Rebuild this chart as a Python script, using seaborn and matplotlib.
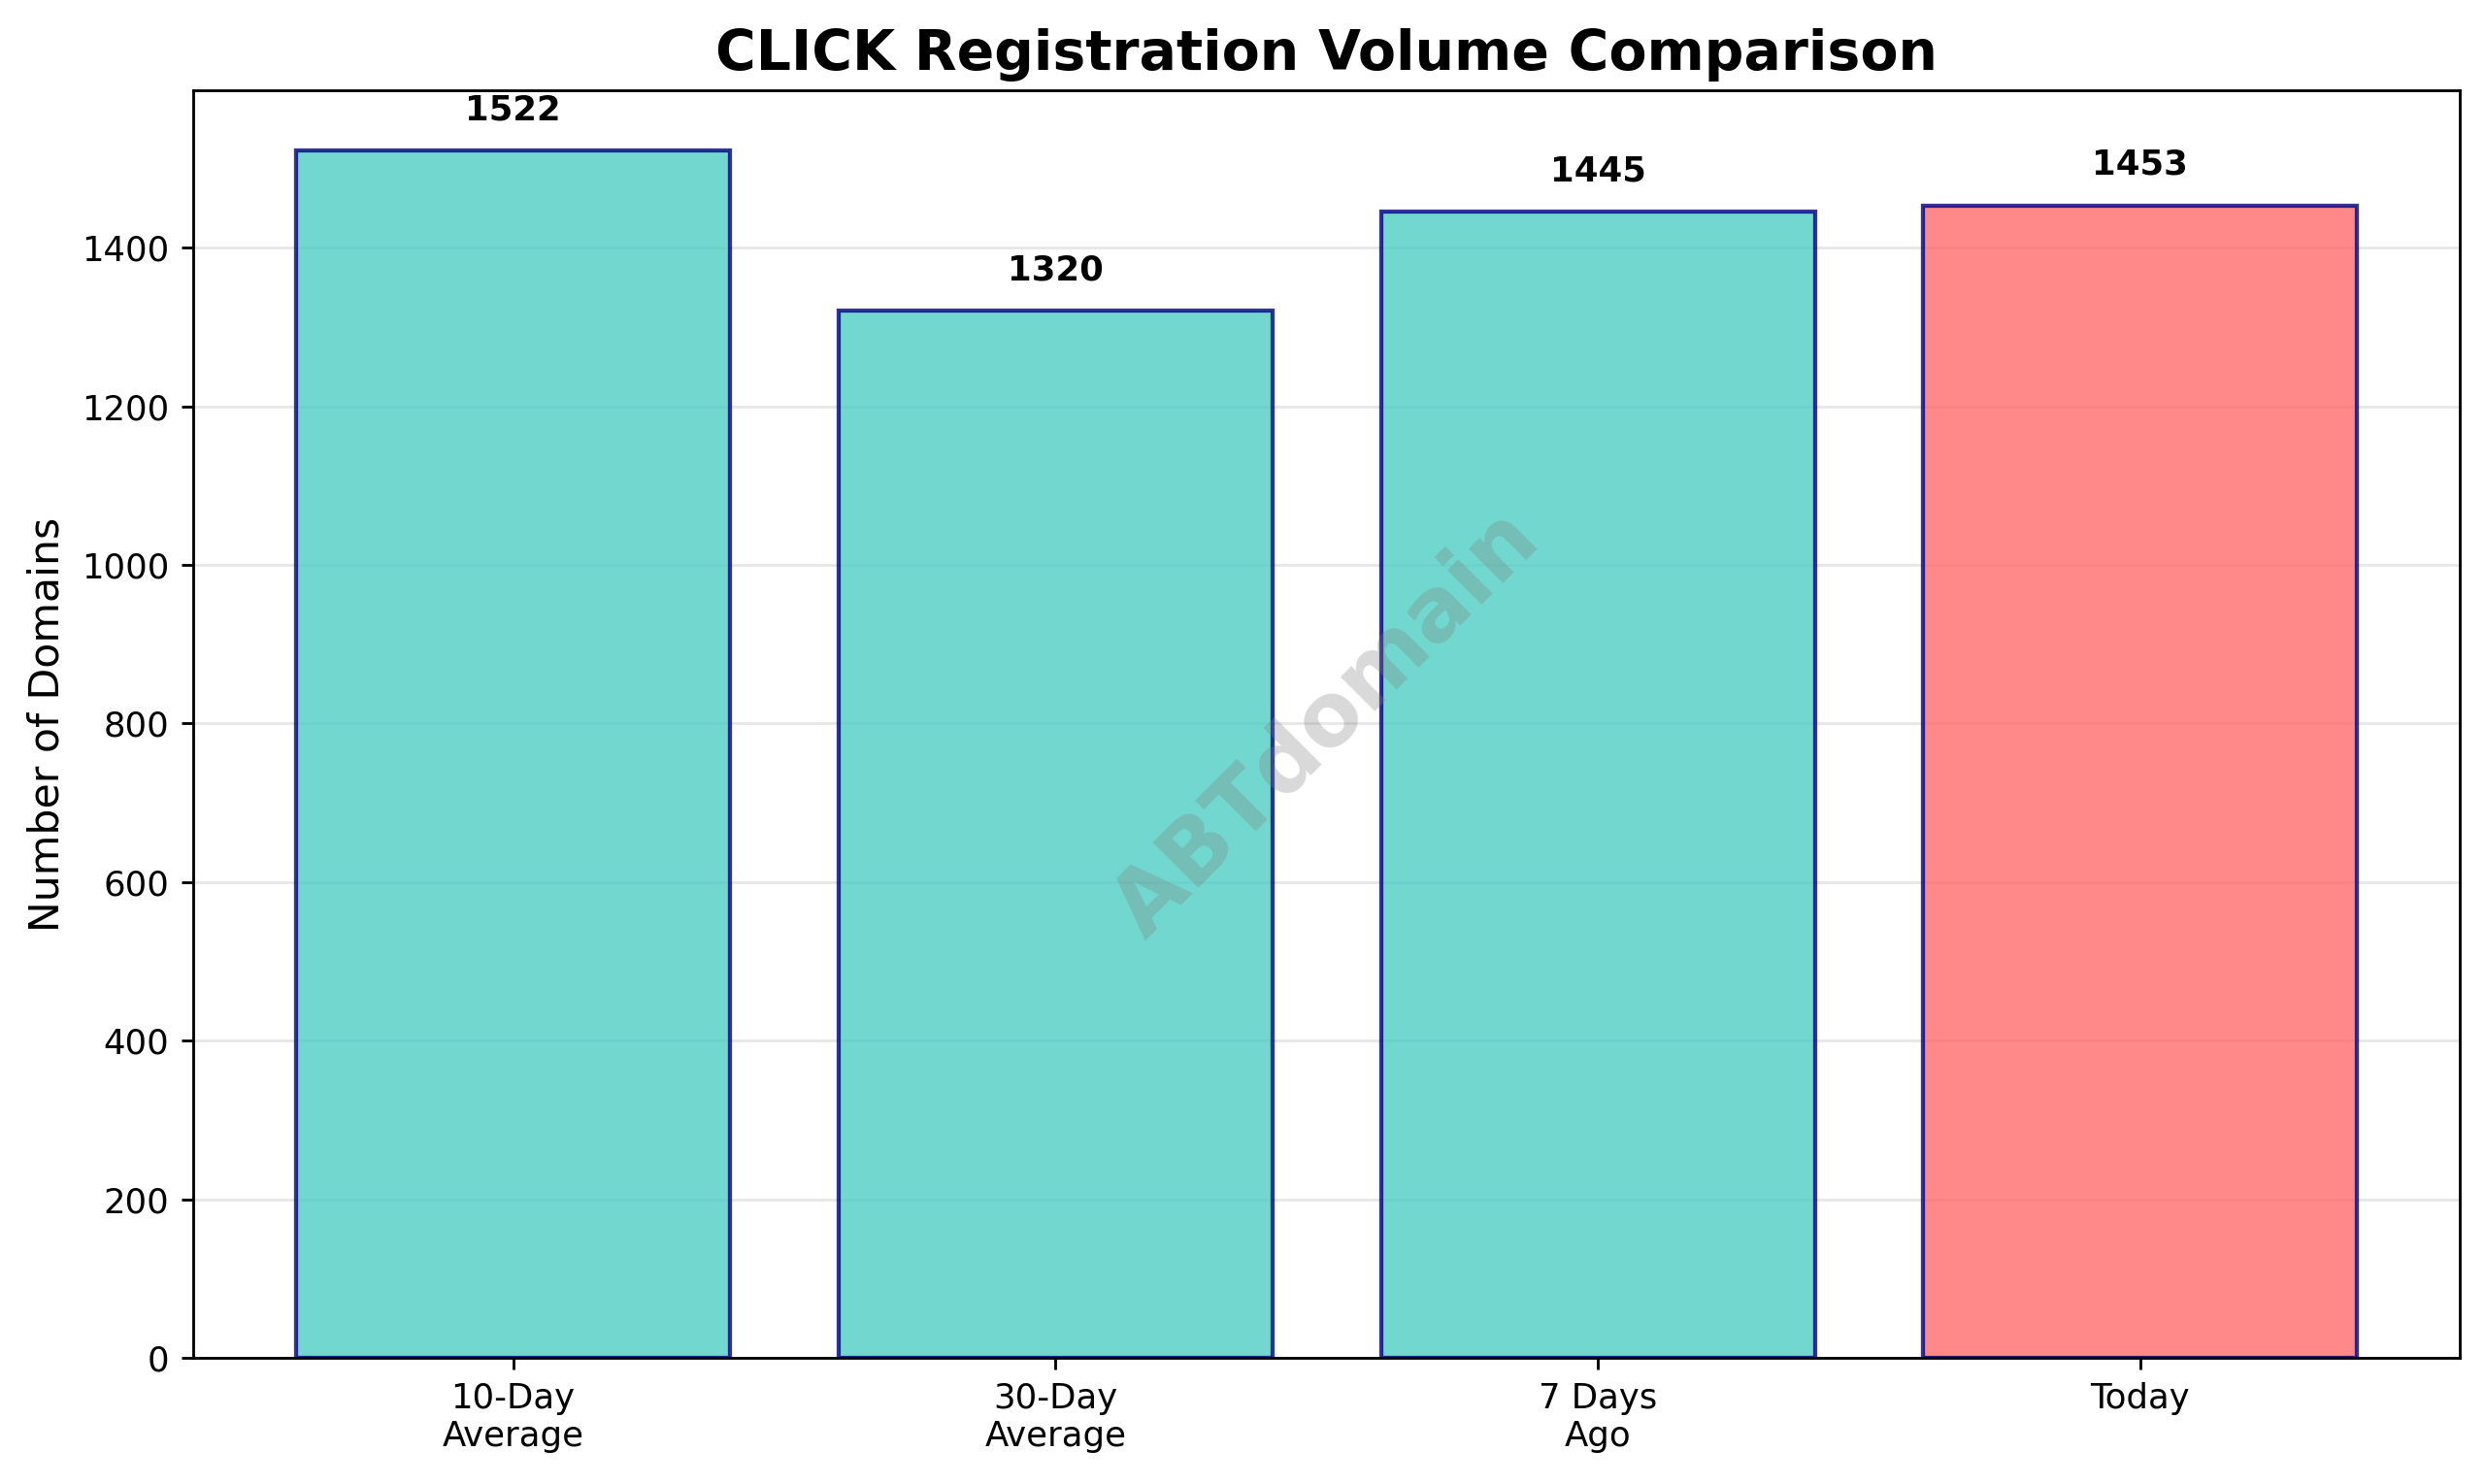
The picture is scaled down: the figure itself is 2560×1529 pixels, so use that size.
import matplotlib
matplotlib.use('Agg')
import matplotlib.pyplot as plt
import seaborn as sns

# Chart data
categories = ['10-Day\nAverage', '30-Day\nAverage', '7 Days\nAgo', 'Today']
volumes = [1522, 1320, 1445, 1453]
bar_colors = ['#4ECDC4', '#4ECDC4', '#4ECDC4', '#FF6B6B']

fig, ax = plt.subplots(figsize=(10, 1529 / 256), dpi=256)
fig.subplots_adjust(left=0.0777, right=0.990, top=0.939, bottom=0.085)

sns.barplot(x=categories, y=volumes, hue=categories, palette=bar_colors,
            saturation=1, alpha=0.8, edgecolor='navy', linewidth=1.2,
            width=0.8, legend=False, ax=ax)

# value labels above each bar
for i, v in enumerate(volumes):
    ax.text(i, v + max(volumes) * 0.02, str(v), ha='center', va='bottom',
            fontweight='bold', fontsize=10)

ax.set_xlim(-0.59, 3.59)
ax.set_ylim(0, max(volumes) * 1.05)
ax.set_title('CLICK Registration Volume Comparison', fontsize=16, fontweight='bold')
ax.set_ylabel('Number of Domains', fontsize=12)
ax.set_xlabel('')
ax.grid(axis='y', alpha=0.3)
ax.set_axisbelow(True)

# watermark
ax.text(0.5, 0.5, 'ABTdomain', transform=ax.transAxes, fontsize=25.5,
        color='gray', alpha=0.3, fontweight='bold', rotation=45,
        ha='center', va='center')

plt.savefig('out.png', dpi=256)
